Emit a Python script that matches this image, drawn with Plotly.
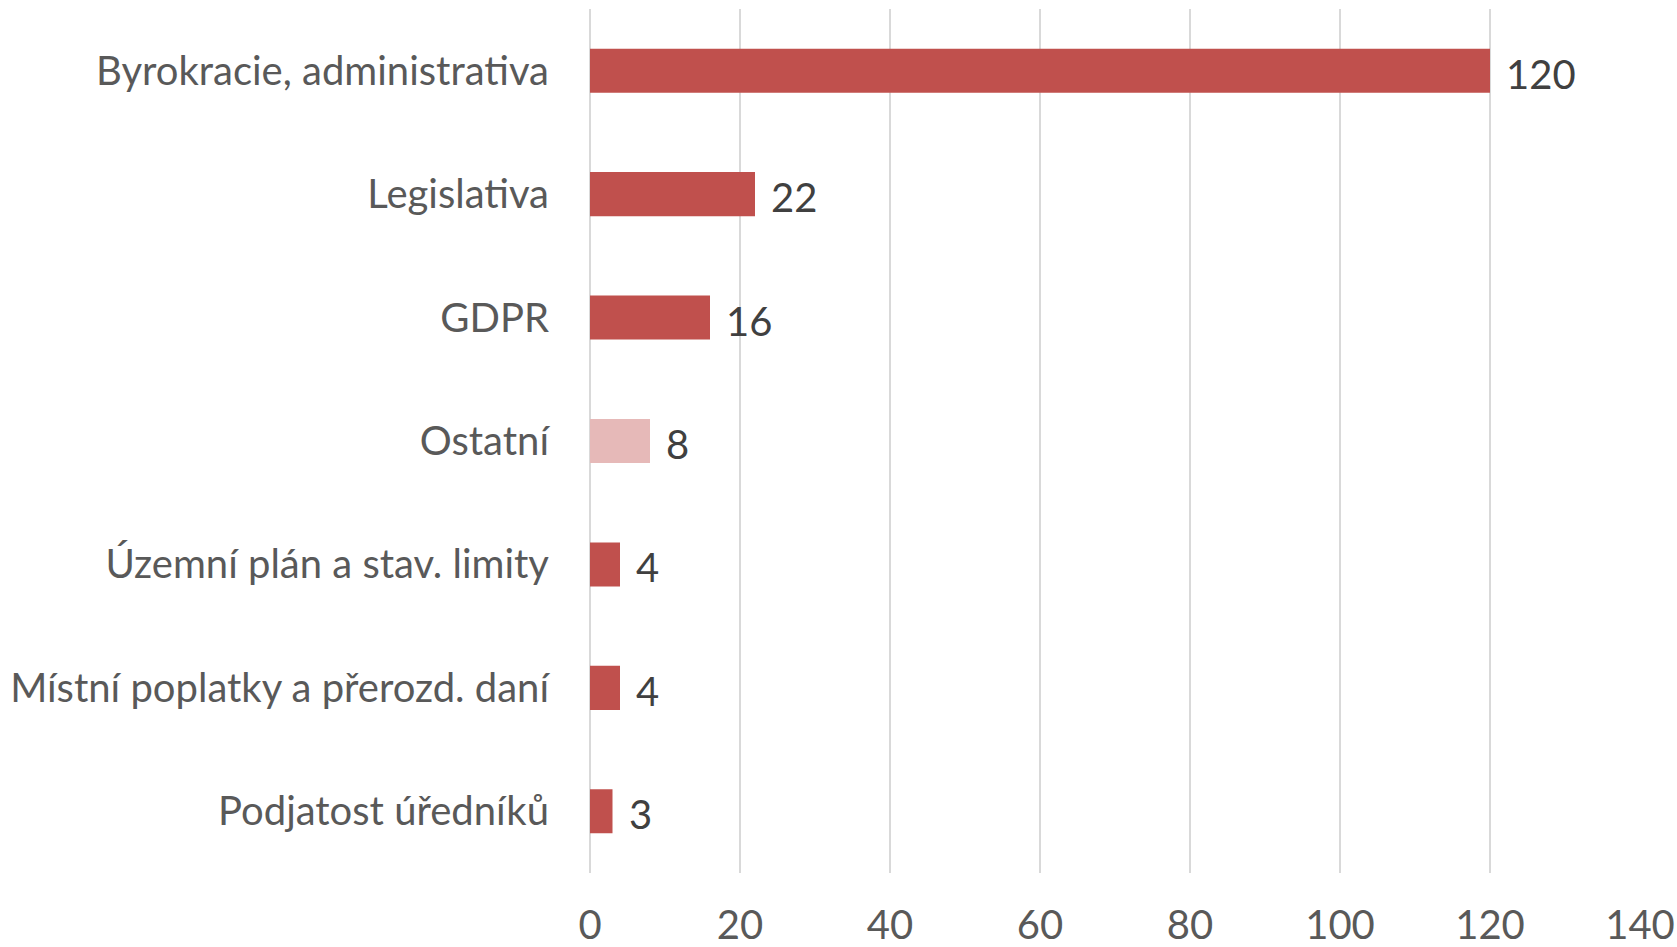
import plotly.graph_objects as go

categories = [
    "Byrokracie, administrativa",
    "Legislativa",
    "GDPR",
    "Ostatní",
    "Územní plán a stav. limity",
    "Místní poplatky a přerozd. daní",
    "Podjatost úředníků",
]
values = [120, 22, 16, 8, 4, 4, 3]
bar_colors = ["#C0504D", "#C0504D", "#C0504D", "#E6B9B8", "#C0504D", "#C0504D", "#C0504D"]
x_ticks = [0, 20, 40, 60, 80, 100, 120, 140]

FONT = "Lato"
SIZE = 40

fig = go.Figure(
    go.Bar(
        x=values,
        y=categories,
        orientation="h",
        marker=dict(color=bar_colors, line=dict(width=0)),
        hoverinfo="skip",
    )
)

for cat, val in zip(categories, values):
    fig.add_annotation(
        x=val, y=cat, text=str(val), showarrow=False,
        xanchor="left", yanchor="middle", xshift=14, yshift=-3,
        font=dict(family=FONT, size=SIZE, color="#404040"),
    )

fig.update_layout(
    width=1677, height=947,
    margin=dict(l=590, r=37, t=9, b=74, autoexpand=False),
    paper_bgcolor="white", plot_bgcolor="white",
    bargap=0.643,
    showlegend=False,
    font=dict(family=FONT, color="#595959"),
)
fig.update_xaxes(
    range=[0, 140], tickvals=x_ticks, automargin=False,
    showgrid=True, gridcolor="#D9D9D9", gridwidth=1.5,
    zeroline=True, zerolinecolor="#D9D9D9", zerolinewidth=1.5,
    showline=False, ticks="",
    tickfont=dict(family=FONT, size=SIZE, color="#595959"),
    ticklabelstandoff=25,
)
fig.update_yaxes(
    categoryorder="array", categoryarray=categories[::-1], automargin=False,
    showgrid=False, zeroline=False, showline=False, ticks="",
    tickfont=dict(family=FONT, size=SIZE, color="#595959"),
    ticklabelstandoff=40,
)

fig.write_html("out.html")
